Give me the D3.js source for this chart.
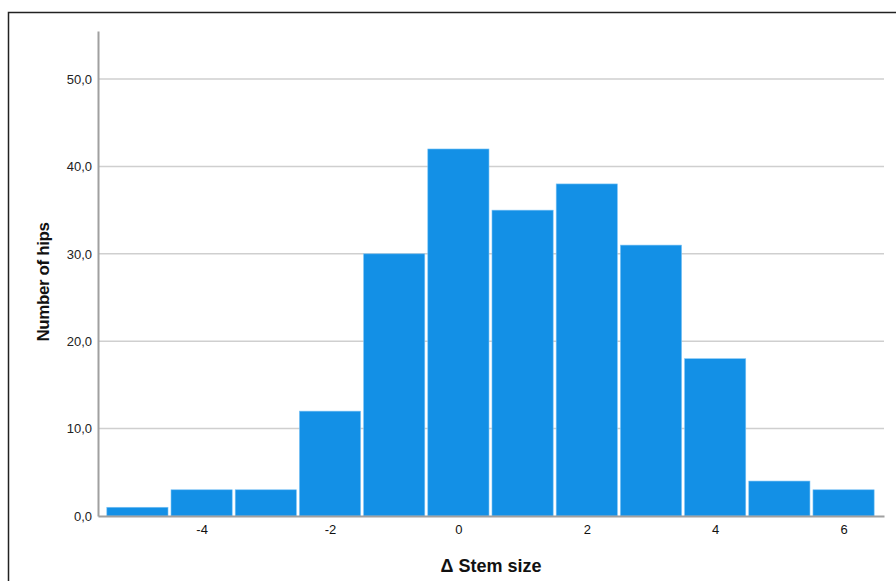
<!DOCTYPE html>
<html><head><meta charset="utf-8">
<script src="https://cdn.jsdelivr.net/npm/d3@7"></script>
<style>body{margin:0;background:#fff}svg{display:block;font-family:Arial,"Liberation Sans",sans-serif}</style>
</head><body><svg id="c" width="896" height="581"></svg>
<script>
const binCenters = [-5,-4,-3,-2,-1,0,1,2,3,4,5,6];
const counts = [1,3,3,12,30,42,35,38,31,18,4,3];
const yTicks = [0,10,20,30,40,50];
const xTicks = [-4,-2,0,2,4,6];
const xTitle = "Δ Stem size";
const yTitle = "Number of hips";

const svg = d3.select("#c");
svg.append("rect").attr("x",8.5).attr("y",12.5).attr("width",900).attr("height",600)
  .attr("fill","none").attr("stroke","#222").attr("stroke-width",1.5);

const x = d3.scaleLinear().domain([-5.614,6.63]).range([98,884]);
const y = d3.scaleLinear().domain([0,55.5]).range([516,31]);

// gridlines
svg.append("g").selectAll("line").data(yTicks.filter(d=>d>0)).join("line")
  .attr("x1",98).attr("x2",884).attr("y1",d=>y(d)).attr("y2",d=>y(d))
  .attr("stroke","#cfcfcf").attr("stroke-width",1.5);

// bars
svg.append("g").selectAll("rect").data(binCenters).join("rect")
  .attr("x",(d)=>x(d-0.5)+1.5)
  .attr("width",(d)=>x(d+0.5)-x(d-0.5)-3)
  .attr("y",(d,i)=>y(counts[i]))
  .attr("height",(d,i)=>y(0)-y(counts[i]))
  .attr("fill","#1390e6").attr("stroke","#7cc4f5").attr("stroke-width",0.6);

// y axis
const ya = svg.append("g").attr("transform","translate(98,0)")
  .call(d3.axisLeft(y).tickValues(yTicks).tickSize(0).tickPadding(6)
    .tickFormat(d=>d3.format(".1f")(d).replace(".",",")));
ya.select(".domain").attr("stroke","#a0a0a0").attr("stroke-width",2);
ya.selectAll("text").attr("font-size",13).attr("fill","#222").attr("font-family","Arial, 'Liberation Sans', sans-serif");

// x axis
const xa = svg.append("g").attr("transform","translate(0,516)")
  .call(d3.axisBottom(x).tickValues(xTicks).tickSize(0).tickPadding(9).tickFormat(d=>String(d)));
xa.select(".domain").attr("stroke","#a0a0a0").attr("stroke-width",2);
xa.selectAll("text").attr("font-size",13).attr("fill","#111").attr("font-family","Arial, 'Liberation Sans', sans-serif");

svg.append("text").attr("x",491).attr("y",572).attr("text-anchor","middle")
  .attr("font-size",18).attr("font-weight","bold").attr("fill","#111").text(xTitle);
svg.append("text").attr("transform","translate(49,282) rotate(-90)").attr("text-anchor","middle")
  .attr("font-size",17).attr("font-weight","bold").attr("fill","#111").attr("letter-spacing",-0.4).text(yTitle);
</script></body></html>
